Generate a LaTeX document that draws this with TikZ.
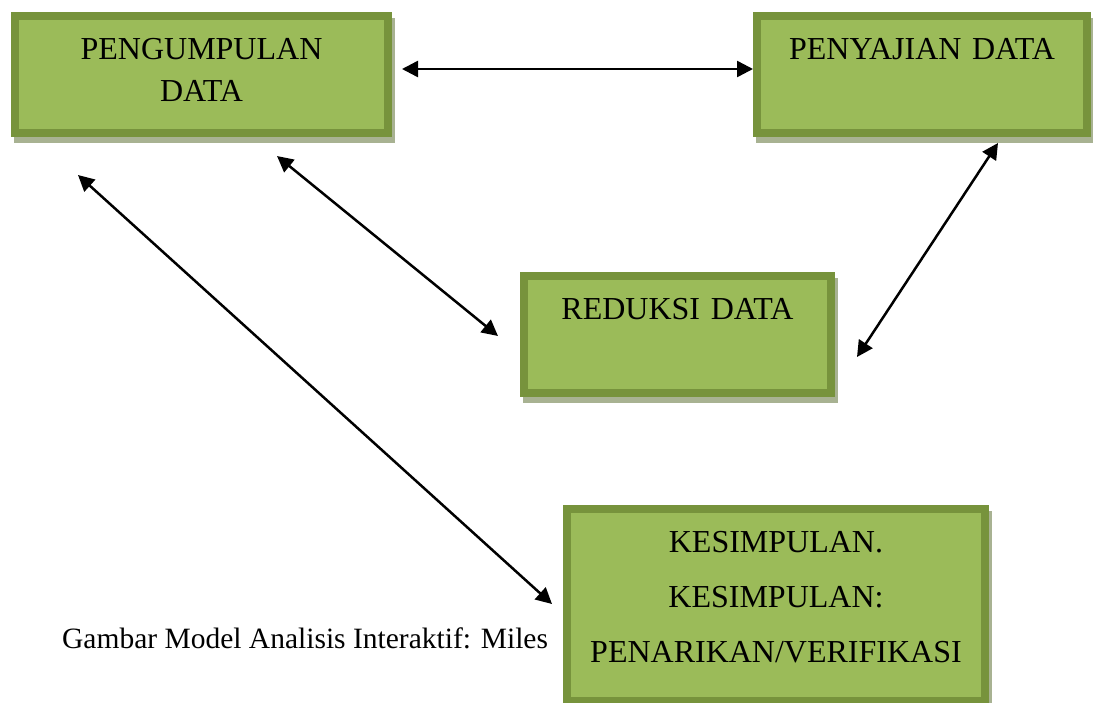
\documentclass[tikz,border=0pt]{standalone}
\usepackage{fontspec}
\setmainfont{Liberation Serif}
\usetikzlibrary{arrows.meta,shadows}

\definecolor{boxfill}{RGB}{155,187,89}
\definecolor{boxline}{RGB}{119,147,60}
\definecolor{boxshadow}{RGB}{168,178,146}

\tikzset{
  box/.style={draw=boxline,fill=boxfill,line width=8pt,inner sep=0pt,align=center,
    font=\fontsize{32}{42}\selectfont,text height=43pt,
    general shadow={draw=boxshadow,fill=boxshadow,shadow xshift=3pt,shadow yshift=-6pt}},
  twoway/.style={draw,line width=2.5pt,
    {Triangle[length=16pt,width=16pt]}-{Triangle[length=16pt,width=16pt]}}
}

\begin{document}
\begin{tikzpicture}[x=1pt,y=-1pt]

      \useasboundingbox (0,0) rectangle (1093,702);

      \node[anchor=base west,inner sep=0pt,font=\fontsize{29.5}{40}\selectfont] (gambar) at (62,648)
        {Gambar Model Analisis Interaktif: Miles};

      \begin{scope}[every node/.style={box}]
        \node[text width=373pt,text depth=74pt] (pengumpulan) at (201.5,74.5) {PENGUMPULAN\\DATA};
        \node[text width=330pt,text depth=74pt] (penyajian)   at (922,74.5)   {PENYAJIAN DATA};
        \node[text width=307pt,text depth=74pt] (reduksi)     at (677.5,334.5) {REDUKSI DATA};
        \node[text width=418pt,text depth=149pt,font=\fontsize{32}{55}\selectfont] (kesimpulan) at (776,605)
          {KESIMPULAN.\\KESIMPULAN:\\PENARIKAN/VERIFIKASI};
      \end{scope}

      \coordinate (pd-e)  at (402,69);
      \coordinate (pj-w)  at (753,69);
      \coordinate (pd-s)  at (277,156);
      \coordinate (rd-w)  at (498,336);
      \coordinate (pd-sw) at (78,175);
      \coordinate (ks-w)  at (552,604);
      \coordinate (pj-s)  at (998,143);
      \coordinate (rd-e)  at (857,357);

      \begin{scope}[every edge/.style={twoway}]
        \path (pd-e)  edge (pj-w);
        \path (pd-s)  edge (rd-w);
        \path (pd-sw) edge (ks-w);
        \path (pj-s)  edge (rd-e);
      \end{scope}

    \end{tikzpicture}
\end{document}
